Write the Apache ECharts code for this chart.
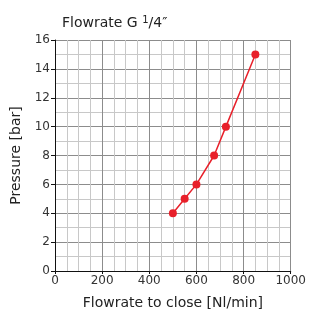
<!DOCTYPE html>
<html><head><meta charset="utf-8">
<script src="https://cdn.jsdelivr.net/npm/echarts@6/dist/echarts.min.js"></script>
<style>html,body{margin:0;padding:0;background:#fff}#c{width:309px;height:315px}</style>
</head><body><div id="c"></div>
<script>
const flowrate = [500, 550, 600, 675, 725, 850];
const pressure = [4, 5, 6, 8, 10, 15];
const xTicks = [0, 200, 400, 600, 800, 1000];
const yTicks = [0, 2, 4, 6, 8, 10, 12, 14, 16];
const font = '"DejaVu Sans", sans-serif';
const chart = echarts.init(document.getElementById('c'));
chart.setOption({
  animation: false,
  title: {
    text: '{a|Flowrate G }{s|1}{a|/4″}',
    left: 57, top: 10,
    textStyle: { fontWeight: 'normal', rich: {
      a: { fontFamily: font, fontSize: 14, color: '#222', fontWeight: 'normal' },
      s: { fontFamily: font, fontSize: 10, color: '#222', fontWeight: 'normal', verticalAlign: 'top', padding: [0,0,6,0] }
    } }
  },
  grid: { left: 55, right: 17, top: 40, bottom: 40 },
  xAxis: {
    type: 'value', min: xTicks[0], max: xTicks[xTicks.length-1], interval: 200,
    name: 'Flowrate to close [Nl/min]', nameLocation: 'middle', nameGap: 25,
    nameTextStyle: { fontFamily: font, fontSize: 14, color: '#222' },
    axisLine: { lineStyle: { color: '#111', width: 1 } },
    axisTick: { show: true, length: 3, lineStyle: { color: '#111' } },
    axisLabel: { fontFamily: font, fontSize: 12, color: '#333', margin: 4, formatter: v => String(v) },
    splitLine: { show: true, lineStyle: { color: '#8c8c8c', width: 1 } },
    minorTick: { show: false, splitNumber: 4 },
    minorSplitLine: { show: true, lineStyle: { color: '#c8c8c8', width: 1 } }
  },
  yAxis: {
    type: 'value', min: yTicks[0], max: yTicks[yTicks.length-1], interval: 2,
    name: 'Pressure [bar]', nameLocation: 'middle', nameGap: 32,
    nameTextStyle: { fontFamily: font, fontSize: 14, color: '#222' },
    axisLine: { show: true, lineStyle: { color: '#111', width: 1 } },
    axisTick: { show: true, length: 4, lineStyle: { color: '#111' } },
    axisLabel: { fontFamily: font, fontSize: 12, color: '#333', margin: 5 },
    splitLine: { show: true, lineStyle: { color: '#8c8c8c', width: 1 } },
    minorTick: { show: false, splitNumber: 2 },
    minorSplitLine: { show: true, lineStyle: { color: '#c8c8c8', width: 1 } }
  },
  series: [{
    type: 'line',
    data: flowrate.map((x, i) => [x, pressure[i]]),
    symbol: 'circle', symbolSize: 8,
    lineStyle: { color: '#e8202a', width: 1.5 },
    itemStyle: { color: '#e8202a' }
  }]
});
</script></body></html>
